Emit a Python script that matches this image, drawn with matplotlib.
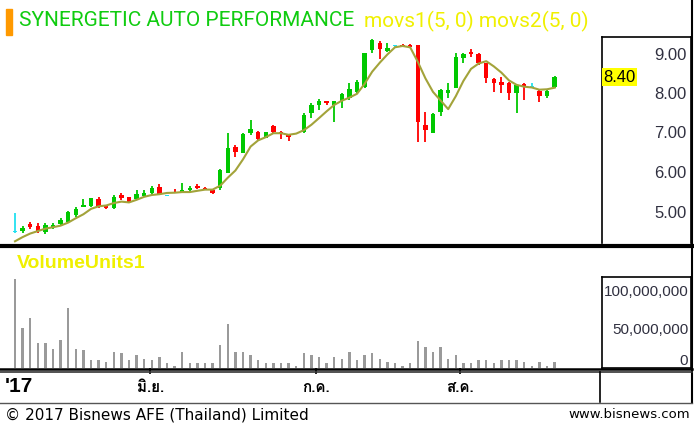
import numpy as np
import matplotlib
matplotlib.use('Agg')
import matplotlib.pyplot as plt
import matplotlib.transforms as mtrans
from matplotlib import font_manager, ft2font
from matplotlib.lines import Line2D
from matplotlib.patches import Rectangle

# daily candles
opens = [4.48, 4.51, 4.68, 4.63, 4.48, 4.60, 4.68, 4.73, 4.91, 5.11, 5.13, 5.32, 5.14, 5.09, 5.42, 5.37,
         5.32, 5.39, 5.47, 5.62, 5.40, 5.50, 5.47, 5.55, 5.65, 5.60, 5.55, 5.60, 5.97, 6.63, 6.48, 6.99,
         7.01, 6.86, 7.16, 7.01, 6.94, 6.96, 7.01, 7.49, 7.70, 7.80, 7.70, 7.80, 7.87, 8.02, 8.15, 9.09,
         9.27, 9.06, 9.19, 9.22, 9.22, 9.22, 7.19, 6.99, 7.52, 8.00, 8.13, 8.89, 9.04, 8.99, 8.76, 8.35,
         8.28, 8.25, 8.00, 8.23, 8.15, 8.05, 7.92, 8.15]
highs = [4.95, 4.63, 4.73, 4.71, 4.71, 4.71, 4.84, 5.01, 5.11, 5.32, 5.35, 5.37, 5.16, 5.42, 5.47, 5.37,
         5.55, 5.55, 5.65, 5.70, 5.42, 5.57, 5.72, 5.65, 5.70, 5.62, 5.57, 6.08, 6.99, 6.68, 6.99, 7.32,
         7.04, 7.01, 7.19, 7.04, 6.96, 6.99, 7.49, 7.75, 7.85, 7.80, 7.80, 8.00, 8.25, 8.33, 9.01, 9.37,
         9.32, 9.27, 9.19, 9.24, 9.24, 9.22, 7.52, 7.49, 8.10, 8.25, 9.01, 9.01, 9.11, 9.01, 8.76, 8.38,
         8.40, 8.28, 8.20, 8.25, 8.25, 8.08, 8.10, 8.42]
lows = [4.45, 4.46, 4.55, 4.46, 4.43, 4.55, 4.63, 4.71, 4.86, 5.11, 5.11, 5.09, 5.06, 5.06, 5.29, 5.22,
        5.32, 5.37, 5.42, 5.42, 5.38, 5.47, 5.47, 5.50, 5.57, 5.55, 5.44, 5.55, 5.97, 6.38, 6.48, 6.94,
        6.81, 6.86, 6.99, 6.84, 6.78, 6.96, 6.99, 7.37, 7.57, 7.70, 7.27, 7.62, 7.82, 8.00, 8.13, 9.01,
        8.86, 9.04, 9.17, 9.17, 9.17, 6.76, 6.76, 6.99, 7.42, 7.87, 8.13, 8.76, 8.91, 8.71, 8.25, 8.03,
        8.00, 7.82, 7.49, 7.82, 8.13, 7.77, 7.87, 8.13]
closes = [4.48, 4.58, 4.60, 4.51, 4.66, 4.66, 4.78, 4.99, 5.06, 5.16, 5.34, 5.11, 5.09, 5.37, 5.34, 5.24,
          5.44, 5.47, 5.60, 5.44, 5.40, 5.47, 5.55, 5.60, 5.60, 5.55, 5.47, 6.05, 6.61, 6.51, 6.96, 7.09,
          6.84, 7.01, 7.01, 6.96, 6.89, 6.99, 7.44, 7.70, 7.80, 7.75, 7.80, 7.97, 8.10, 8.28, 9.01, 9.34,
          9.11, 9.14, 9.19, 9.17, 9.17, 7.27, 7.06, 7.47, 8.08, 8.08, 8.91, 8.99, 8.99, 8.76, 8.38, 8.25,
          8.20, 8.00, 8.20, 8.15, 8.15, 7.92, 8.05, 8.40]
# closes before the first shown day (needed for the 5 day average)
prior_closes = [4.05, 4.15, 4.20, 4.35]
# volume in millions of shares
volume_m = [114, 51, 64, 32, 32, 25, 36, 77, 25, 23, 10, 10, 8, 21, 19, 10, 17, 12, 10, 14, 6, 3,
            21, 6, 6, 6, 6, 30, 56, 21, 21, 17, 10, 6, 6, 6, 6, 3, 19, 17, 14, 6, 14, 12, 21, 10,
            17, 19, 12, 8, 6, 3, 6, 34, 27, 21, 27, 12, 17, 6, 6, 10, 10, 6, 10, 10, 10, 8, 3, 8, 3, 8]

price_ticks = [5, 6, 7, 8, 9]
vol_ticks = [0, 50_000_000, 100_000_000]
month_pos = [17.8, 39.6, 58.6]
month_labels = ['มิ.ย.', 'ก.ค.', 'ส.ค.']

W, H = 694, 428
def fx(px): return px / W
def fy(py): return 1 - py / H

# find some font that has thai glyphs
thai_font = 'DejaVu Sans'
for f in font_manager.fontManager.ttflist:
    try:
        if ord('ม') in ft2font.FT2Font(f.fname).get_charmap():
            thai_font = f.name
            break
    except Exception:
        pass

o = np.array(opens); hi = np.array(highs); lo = np.array(lows); c = np.array(closes)
x = np.arange(len(c))
vol = np.array(volume_m) * 1e6
ma = np.convolve(np.r_[prior_closes, c], np.ones(5) / 5, mode='valid')

green, red, cyan = '#00c800', '#ff0000', '#22e0f0'
cols = np.where(c > o, green, np.where(c < o, red, cyan))

fig = plt.figure(figsize=(6.94, 4.28), dpi=100)
xlim = (-15 / 7.6, (602 - 15) / 7.6)
ylim_p = (8 - 150 / 39.5, 8 + 56 / 39.5)
ylim_v = (0, 91 / 78 * 1e8)

# price panel
ax = fig.add_axes([0, fy(243), fx(602), 206 / H])
ax.set_xlim(*xlim)
ax.set_ylim(*ylim_p)
ax.axis('off')
ax.vlines(x, lo, hi, colors=cols, lw=1.3)
ax.bar(x, np.maximum(np.abs(c - o), 0.03), bottom=np.minimum(o, c), width=0.6, color=cols)
ax.plot(x, ma, color='#a3a33a', lw=1.5, zorder=3)

axb = fig.add_axes([fx(602), fy(243), fx(691) - fx(602), 206 / H])
axb.set_ylim(*ylim_p)
axb.set_xticks([])
axb.yaxis.tick_right()
axb.set_yticks(price_ticks)
axb.set_yticklabels([f'{t:.2f}' for t in price_ticks], ha='right', family='Liberation Sans')
axb.tick_params(axis='y', length=0, pad=-3, labelsize=12, labelcolor='#303040')
axb.spines['bottom'].set_visible(False)
for s in ['top', 'left', 'right']:
    axb.spines[s].set_linewidth(1.2)
tr = mtrans.blended_transform_factory(axb.transAxes, axb.transData)
axb.text(0.015, c[-1], f'{c[-1]:.2f}', transform=tr, va='center', ha='left', fontsize=12,
         family='Liberation Sans', bbox=dict(boxstyle='square,pad=0.08', fc='#ffff00', ec='none'))

# volume panel
axv = fig.add_axes([0, fy(368), fx(602), 91 / H])
axv.set_xlim(*xlim)
axv.set_ylim(*ylim_v)
axv.bar(x, vol, width=0.3, color='#9a9a9a')
for s in axv.spines.values():
    s.set_visible(False)
axv.set_yticks([])
axv.set_xticks(month_pos)
axv.set_xticklabels(month_labels, family=thai_font, fontsize=11, fontweight='bold')
axv.tick_params(axis='x', length=4, width=1.2, pad=5, color='black')

axvb = fig.add_axes([fx(602), fy(368), fx(691) - fx(602), 91 / H])
axvb.set_ylim(*ylim_v)
axvb.set_xticks([])
axvb.yaxis.tick_right()
axvb.set_yticks(vol_ticks)
axvb.set_yticklabels([f'{t:,}' for t in vol_ticks], ha='right', family='Liberation Sans')
axvb.tick_params(axis='y', length=0, pad=-2, labelsize=11, labelcolor='#303040')
axvb.get_yticklabels()[0].set_va('bottom')
for s in axvb.spines.values():
    s.set_linewidth(1.2)

# frame lines
def hline(y, x0, x1, lw, col='black'):
    fig.add_artist(Line2D([fx(x0), fx(x1)], [fy(y), fy(y)], color=col, lw=lw))
def vline(xp, y0, y1, lw, col='black'):
    fig.add_artist(Line2D([fx(xp), fx(xp)], [fy(y0), fy(y1)], color=col, lw=lw))

vline(691.5, 0, 402, 1.5)
hline(245.5, 0, 692, 3)
hline(368.5, 0, 692, 1.8)
hline(371.5, 0, 692, 1.2, '#333333')
vline(600, 372, 402, 1.2)
hline(402.5, 0, 692, 1, '#555555')

# titles
fig.add_artist(Rectangle((fx(6), fy(35)), fx(6), 26 / H, color='#ff9900', transform=fig.transFigure))
t1 = fig.text(fx(19), fy(21), 'SYNERGETIC AUTO PERFORMANCE', color='#10cc10', fontsize=15,
              family='Roboto', va='center')
ax.annotate('movs1(5, 0) movs2(5, 0)', xy=(1, 0.5), xycoords=t1, xytext=(7, 0),
            textcoords='offset points', color='#f0f000', fontsize=15, family='Roboto',
            va='center', ha='left', annotation_clip=False)
fig.text(fx(17), fy(264), 'VolumeUnits1', color='#f0f000', fontsize=14, fontweight='bold',
         family='Liberation Sans', va='center')
fig.text(fx(5), fy(386), "'17", fontsize=15, fontweight='bold', family='Liberation Sans', va='center')

fig.text(fx(5), fy(415), '© 2017 Bisnews AFE (Thailand) Limited', fontsize=11, family='DejaVu Sans',
         va='center')
fig.text(fx(690), fy(415), 'www.bisnews.com', fontsize=9.5, family='DejaVu Sans', va='center', ha='right')

fig.savefig('out.png', dpi=100)
